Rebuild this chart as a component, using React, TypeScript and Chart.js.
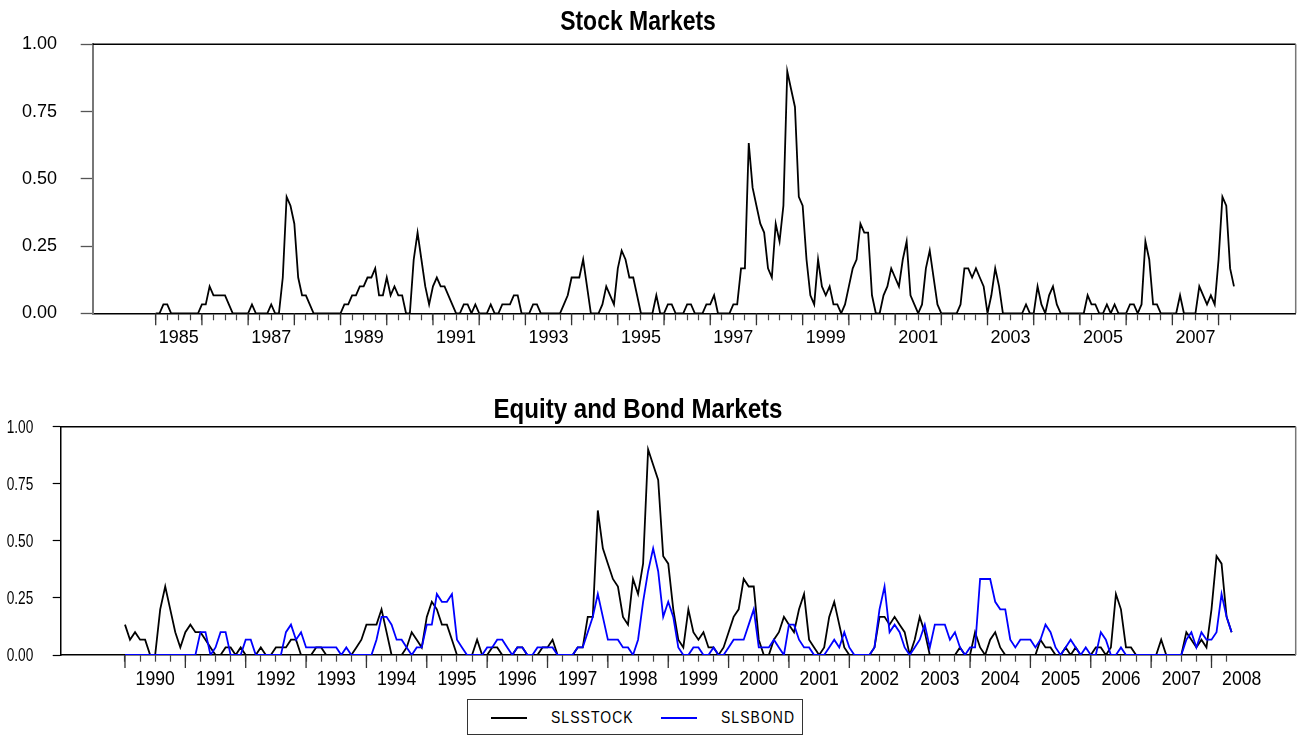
import React, { useEffect, useRef } from 'react';
import { Chart, registerables } from 'chart.js';

Chart.register(...registerables);

// Monthly data, SLSSTOCK from Jan 1985 to May 2008
const stockValues: number[] = [
  // 1985
  0, 0, 0.033, 0.033, 0, 0, 0, 0, 0, 0, 0, 0,
  // 1986
  0.033, 0.033, 0.1, 0.067, 0.067, 0.067, 0.067, 0.033, 0, 0, 0, 0,
  // 1987
  0, 0.033, 0, 0, 0, 0, 0.033, 0, 0, 0.133, 0.433, 0.4,
  // 1988
  0.333, 0.133, 0.067, 0.067, 0.033, 0, 0, 0, 0, 0, 0, 0,
  // 1989
  0, 0.033, 0.033, 0.067, 0.067, 0.1, 0.1, 0.133, 0.133, 0.167, 0.067, 0.067,
  // 1990
  0.133, 0.067, 0.1, 0.067, 0.067, 0, 0, 0.2, 0.3, 0.2, 0.1, 0.033,
  // 1991
  0.1, 0.133, 0.1, 0.1, 0.067, 0.033, 0, 0, 0.033, 0.033, 0, 0.033,
  // 1992
  0, 0, 0, 0.033, 0, 0, 0.033, 0.033, 0.033, 0.067, 0.067, 0,
  // 1993
  0, 0, 0.033, 0.033, 0, 0, 0, 0, 0, 0, 0.033, 0.067,
  // 1994
  0.133, 0.133, 0.133, 0.2, 0.1, 0, 0, 0, 0.033, 0.1, 0.067, 0.033,
  // 1995
  0.167, 0.233, 0.2, 0.133, 0.133, 0.067, 0, 0, 0, 0, 0.067, 0,
  // 1996
  0, 0.033, 0.033, 0, 0, 0, 0.033, 0.033, 0, 0, 0, 0.033,
  // 1997
  0.033, 0.067, 0, 0, 0, 0, 0.033, 0.033, 0.167, 0.167, 0.633, 0.467,
  // 1998
  0.4, 0.333, 0.3, 0.167, 0.133, 0.333, 0.267, 0.4, 0.9, 0.833, 0.767, 0.433,
  // 1999
  0.4, 0.2, 0.067, 0.033, 0.2, 0.1, 0.067, 0.1, 0.033, 0.033, 0, 0.033,
  // 2000
  0.1, 0.167, 0.2, 0.333, 0.3, 0.3, 0.067, 0, 0, 0.067, 0.1, 0.167,
  // 2001
  0.133, 0.1, 0.2, 0.267, 0.067, 0.033, 0, 0.033, 0.167, 0.233, 0.133, 0.033,
  // 2002
  0, 0, 0, 0, 0, 0.033, 0.167, 0.167, 0.133, 0.167, 0.133, 0.1,
  // 2003
  0, 0.067, 0.167, 0.1, 0, 0, 0, 0, 0, 0, 0.033, 0,
  // 2004
  0, 0.1, 0.033, 0, 0.067, 0.1, 0.033, 0, 0, 0, 0, 0,
  // 2005
  0, 0, 0.067, 0.033, 0.033, 0, 0, 0.033, 0, 0.033, 0, 0,
  // 2006
  0, 0.033, 0.033, 0, 0.033, 0.267, 0.2, 0.033, 0.033, 0, 0, 0,
  // 2007
  0, 0, 0.067, 0, 0, 0, 0, 0.1, 0.067, 0.033, 0.067, 0.033,
  // 2008
  0.2, 0.433, 0.4, 0.167, 0.1,
];

// Monthly data, SLSBOND from Jan 1990 to May 2008
const bondValues: number[] = [
  // 1990
  0, 0, 0, 0, 0, 0, 0, 0, 0, 0, 0, 0,
  // 1991
  0, 0, 0, 0.1, 0.1, 0, 0.033, 0.1, 0.1, 0, 0, 0,
  // 1992
  0.067, 0.067, 0, 0, 0, 0, 0, 0, 0.1, 0.133, 0.067, 0.1,
  // 1993
  0.033, 0.033, 0.033, 0.033, 0.033, 0.033, 0.033, 0, 0.033, 0, 0, 0,
  // 1994
  0, 0, 0.067, 0.167, 0.167, 0.133, 0.067, 0.067, 0.033, 0, 0.033, 0.033,
  // 1995
  0.133, 0.133, 0.267, 0.233, 0.233, 0.267, 0.067, 0.033, 0, 0, 0, 0,
  // 1996
  0.033, 0.033, 0.067, 0.067, 0.033, 0, 0.033, 0.033, 0, 0, 0.033, 0.033,
  // 1997
  0.033, 0.033, 0, 0, 0, 0, 0.033, 0.033, 0.1, 0.167, 0.267, 0.167,
  // 1998
  0.067, 0.067, 0.067, 0.033, 0.033, 0, 0.067, 0.233, 0.367, 0.467, 0.367, 0.167,
  // 1999
  0.233, 0.167, 0.033, 0, 0, 0.033, 0.033, 0, 0, 0.033, 0, 0,
  // 2000
  0.033, 0.067, 0.067, 0.067, 0.133, 0.2, 0.033, 0.033, 0.033, 0.067, 0.033, 0,
  // 2001
  0.133, 0.133, 0.067, 0.033, 0.033, 0, 0, 0, 0.033, 0.067, 0.033, 0.1,
  // 2002
  0.033, 0, 0, 0, 0, 0.033, 0.2, 0.3, 0.1, 0.133, 0.1, 0.033,
  // 2003
  0, 0.033, 0.067, 0.133, 0.033, 0.133, 0.133, 0.133, 0.067, 0.1, 0.033, 0,
  // 2004
  0.033, 0.033, 0.333, 0.333, 0.333, 0.233, 0.2, 0.2, 0.067, 0.033, 0.067, 0.067,
  // 2005
  0.067, 0.033, 0.067, 0.133, 0.1, 0.033, 0, 0.033, 0.067, 0.033, 0, 0.033,
  // 2006
  0, 0, 0.1, 0.067, 0, 0, 0.033, 0, 0, 0, 0, 0,
  // 2007
  0, 0, 0, 0, 0, 0, 0, 0.067, 0.1, 0.033, 0.1, 0.067,
  // 2008
  0.067, 0.1, 0.267, 0.167, 0.1,
];

const topFirstYear = 1985;
const bottomFirstYear = 1990;
const topYearLabels = ['1985', '1987', '1989', '1991', '1993', '1995', '1997', '1999', '2001', '2003', '2005', '2007'];
const bottomYearLabels = ['1990', '1991', '1992', '1993', '1994', '1995', '1996', '1997', '1998', '1999', '2000', '2001', '2002', '2003', '2004', '2005', '2006', '2007', '2008'];
const yTickValues = [0, 0.25, 0.5, 0.75, 1.0];
const topTitle = 'Stock Markets';
const bottomTitle = 'Equity and Bond Markets';
const legendLabels = ['SLSSTOCK', 'SLSBOND'];
const seriesColors = ['#000000', '#0000ff'];

const SANS = "'Liberation Sans', Arial, sans-serif";

function monthIndex(year: number, first: number) {
  return (year - first) * 12;
}

// Draws frame, long year ticks, title and (optionally) horizontally condensed tick labels
const framePlugin = {
  id: 'frame',
  afterDraw(chart: any, _args: any, opts: any) {
    const { ctx, chartArea: a } = chart;
    const xs = chart.scales.x;
    const ys = chart.scales.y;
    ctx.save();
    ctx.strokeStyle = '#000';
    ctx.lineWidth = 1.5;
    ctx.beginPath();
    ctx.moveTo(a.left, a.top);
    ctx.lineTo(a.right, a.top);
    ctx.stroke();
    ctx.strokeStyle = opts.rightColor;
    ctx.beginPath();
    ctx.moveTo(a.right, a.top);
    ctx.lineTo(a.right, a.bottom);
    ctx.stroke();
    ctx.strokeStyle = opts.tickColor;
    ctx.lineWidth = 1.3;
    ctx.beginPath();
    for (const v of opts.yearTicks) {
      const px = xs.getPixelForValue(v);
      ctx.moveTo(px, a.bottom);
      ctx.lineTo(px, a.bottom + opts.longTick);
    }
    ctx.stroke();
    ctx.restore();

    ctx.save();
    ctx.fillStyle = '#000';
    ctx.font = `bold ${opts.titleSize}px ${SANS}`;
    ctx.textAlign = 'center';
    ctx.textBaseline = 'alphabetic';
    ctx.translate(opts.titleX, opts.titleY);
    ctx.scale(opts.titleScale, 1);
    ctx.fillText(opts.title, 0, 0);
    ctx.restore();

    if (opts.narrowX) {
      const n = opts.narrowX;
      ctx.save();
      ctx.fillStyle = '#000';
      ctx.font = `${n.size}px ${SANS}`;
      ctx.textAlign = 'center';
      ctx.textBaseline = 'middle';
      for (const [v, text] of n.labels) {
        const px = xs.getPixelForValue(v);
        ctx.save();
        ctx.translate(px, a.bottom + n.offset);
        ctx.scale(n.scale, 1);
        ctx.fillText(text, 0, 0);
        ctx.restore();
      }
      ctx.restore();
    }
    if (opts.narrowY) {
      const n = opts.narrowY;
      ctx.save();
      ctx.fillStyle = '#000';
      ctx.font = `${n.size}px ${SANS}`;
      ctx.textAlign = 'right';
      ctx.textBaseline = 'middle';
      for (const v of n.values) {
        const py = ys.getPixelForValue(v);
        ctx.save();
        ctx.translate(a.left - n.offset, py + 1);
        ctx.scale(n.scale, 1);
        ctx.fillText(v.toFixed(2), 0, 0);
        ctx.restore();
      }
      ctx.restore();
    }
  },
};

function buildTopConfig(): any {
  const quarterTicks: number[] = [];
  for (let v = 0; v <= 279; v += 3) quarterTicks.push(v);
  const yearTicks: number[] = [];
  for (let y = topFirstYear; y <= 2008; y++) yearTicks.push(monthIndex(y, topFirstYear));
  const labelMap = new Map<number, string>();
  topYearLabels.forEach((lab) => labelMap.set(monthIndex(Number(lab), topFirstYear) + 6, lab));

  return {
    type: 'line',
    data: {
      datasets: [
        {
          label: legendLabels[0],
          data: stockValues.map((v, i) => ({ x: i, y: v })),
          borderColor: seriesColors[0],
          borderWidth: 1.8,
          pointRadius: 0,
          tension: 0,
          fill: false,
        },
      ],
    },
    options: {
      responsive: false,
      animation: false,
      layout: { padding: { top: 44.3, right: 4.3, left: 0, bottom: 0 } },
      plugins: {
        legend: { display: false },
        tooltip: { enabled: false },
        title: { display: false },
        frame: {
          title: topTitle,
          titleX: 638,
          titleY: 30,
          titleSize: 28,
          titleScale: 0.82,
          yearTicks,
          longTick: 12,
          tickColor: '#333',
          rightColor: '#777',
        },
      },
      scales: {
        x: {
          type: 'linear',
          min: -16.36,
          max: 296.03,
          afterBuildTicks: (s: any) => {
            s.ticks = quarterTicks.map((v) => ({ value: v }));
          },
          afterFit: (s: any) => {
            s.height = 66.7;
          },
          ticks: {
            autoSkip: false,
            maxRotation: 0,
            minRotation: 0,
            padding: 7.4,
            color: '#000',
            font: { family: SANS, size: 18 },
            callback: (v: number) => labelMap.get(v) ?? '',
          },
          grid: { drawOnChartArea: false, drawTicks: true, tickLength: 7, tickColor: '#444', tickWidth: 1.2 },
          border: { display: true, color: '#000', width: 1.5 },
        },
        y: {
          min: 0,
          max: 1,
          afterBuildTicks: (s: any) => {
            s.ticks = yTickValues.map((v) => ({ value: v }));
          },
          afterFit: (s: any) => {
            s.width = 92.7;
          },
          ticks: {
            padding: 23.7,
            color: '#000',
            font: { family: SANS, size: 18 },
            callback: (v: number) => v.toFixed(2),
          },
          grid: { drawOnChartArea: false, drawTicks: true, tickLength: 12, tickColor: '#555', tickWidth: 1.3 },
          border: { display: true, color: '#777', width: 2 },
        },
      },
    },
    plugins: [framePlugin],
  };
}

function buildBottomConfig(): any {
  const quarterTicks: number[] = [];
  for (let v = 0; v <= 219; v += 3) quarterTicks.push(v);
  const yearTicks: number[] = [];
  for (let y = bottomFirstYear; y <= 2008; y++) yearTicks.push(monthIndex(y, bottomFirstYear));
  const xLabels: [number, string][] = bottomYearLabels.map((lab) => [monthIndex(Number(lab), bottomFirstYear) + 6, lab]);
  const offset = monthIndex(bottomFirstYear, topFirstYear);
  const stockSub = stockValues.slice(offset);

  return {
    type: 'line',
    data: {
      datasets: [
        {
          label: legendLabels[1],
          data: bondValues.map((v, i) => ({ x: i, y: v })),
          borderColor: seriesColors[1],
          borderWidth: 1.8,
          pointRadius: 0,
          tension: 0,
          fill: false,
        },
        {
          label: legendLabels[0],
          data: stockSub.map((v, i) => ({ x: i, y: v })),
          borderColor: seriesColors[0],
          borderWidth: 1.8,
          pointRadius: 0,
          tension: 0,
          fill: false,
        },
      ],
    },
    options: {
      responsive: false,
      animation: false,
      layout: { padding: { top: 46.7, right: 4.3, left: 0, bottom: 0 } },
      plugins: {
        legend: { display: false },
        tooltip: { enabled: false },
        title: { display: false },
        frame: {
          title: bottomTitle,
          titleX: 638,
          titleY: 38,
          titleSize: 28,
          titleScale: 0.86,
          yearTicks,
          longTick: 13,
          tickColor: '#333',
          rightColor: '#777',
          narrowX: { labels: xLabels, size: 20, scale: 0.88, offset: 24 },
          narrowY: { values: yTickValues, size: 18, scale: 0.76, offset: 27.7 },
        },
      },
      scales: {
        x: {
          type: 'linear',
          min: -12.72,
          max: 232.74,
          afterBuildTicks: (s: any) => {
            s.ticks = quarterTicks.map((v) => ({ value: v }));
          },
          afterFit: (s: any) => {
            s.height = 89;
          },
          ticks: { display: false, autoSkip: false, maxRotation: 0 },
          grid: { drawOnChartArea: false, drawTicks: true, tickLength: 6.7, tickColor: '#444', tickWidth: 1.2 },
          border: { display: true, color: '#000', width: 1.5 },
        },
        y: {
          min: 0,
          max: 1,
          afterBuildTicks: (s: any) => {
            s.ticks = yTickValues.map((v) => ({ value: v }));
          },
          afterFit: (s: any) => {
            s.width = 61;
          },
          ticks: { display: false },
          grid: { drawOnChartArea: false, drawTicks: true, tickLength: 8.3, tickColor: '#000', tickWidth: 1.2 },
          border: { display: true, color: '#000', width: 1.5 },
        },
      },
    },
    plugins: [framePlugin],
  };
}

export default function App() {
  const topRef = useRef<HTMLCanvasElement | null>(null);
  const bottomRef = useRef<HTMLCanvasElement | null>(null);

  useEffect(() => {
    const top = new Chart(topRef.current as HTMLCanvasElement, buildTopConfig());
    const bottom = new Chart(bottomRef.current as HTMLCanvasElement, buildBottomConfig());
    return () => {
      top.destroy();
      bottom.destroy();
    };
  }, []);

  const legendText: React.CSSProperties = {
    position: 'absolute',
    top: 8,
    fontFamily: SANS,
    fontSize: 17,
    letterSpacing: '1.3px',
    lineHeight: '19px',
    color: '#000',
    whiteSpace: 'nowrap',
    transform: 'scaleX(0.82)',
    transformOrigin: 'left center',
  };

  return (
    <div style={{ position: 'absolute', left: 0, top: 0, width: 1300, height: 744, background: '#fff', overflow: 'hidden' }}>
      <canvas ref={topRef} width={1300} height={380} style={{ position: 'absolute', left: 0, top: 0 }} />
      <canvas ref={bottomRef} width={1300} height={364} style={{ position: 'absolute', left: 0, top: 380 }} />
      <div
        style={{
          position: 'absolute',
          left: 467,
          top: 699,
          width: 336,
          height: 36,
          border: '1px solid #333',
          boxSizing: 'border-box',
          background: '#fff',
        }}
      >
        <div style={{ position: 'absolute', left: 23, top: 17, width: 36, height: 2, background: seriesColors[0] }} />
        <div style={{ ...legendText, left: 83 }}>{legendLabels[0]}</div>
        <div style={{ position: 'absolute', left: 193, top: 17, width: 36, height: 2, background: seriesColors[1] }} />
        <div style={{ ...legendText, left: 253 }}>{legendLabels[1]}</div>
      </div>
    </div>
  );
}
